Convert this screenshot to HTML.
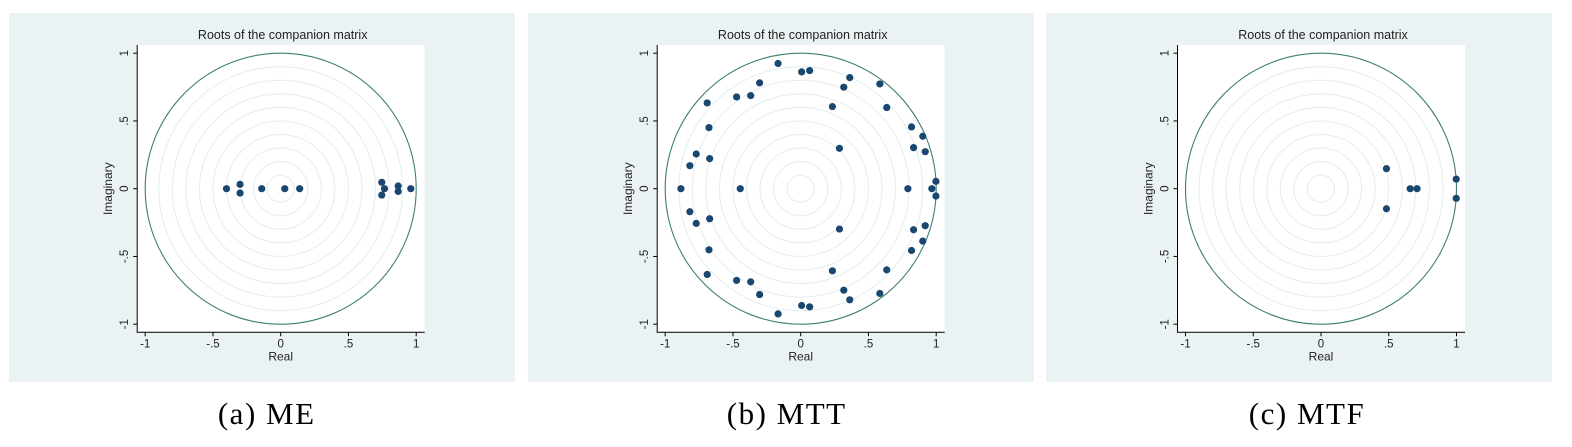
<!DOCTYPE html>
<html><head><meta charset="utf-8"><style>
body{margin:0;background:#fff;width:1572px;height:447px;overflow:hidden;font-family:"Liberation Sans",sans-serif}
svg{position:absolute;left:0;top:0}
</style></head><body>
<svg id="s" width="1572" height="447"></svg>
<script>
const meRe=[-0.40,-0.30,-0.30,-0.14,0.03,0.14,0.746,0.746,0.766,0.867,0.867,0.96];
const meIm=[0,0.032,-0.032,0,0,0,0.047,-0.047,0,0.02,-0.02,0];
const mttReU=[-0.167,0.007,0.066,0.362,0.318,0.584,-0.303,-0.473,-0.369,-0.690,0.234,0.635,-0.677,0.818,0.901,0.286,0.833,0.919,-0.771,-0.672,-0.818,0.998];
const mttImU=[0.924,0.862,0.872,0.820,0.749,0.773,0.781,0.677,0.687,0.633,0.606,0.599,0.451,0.456,0.387,0.298,0.303,0.273,0.256,0.222,0.170,0.054];
const mttReReal=[-0.884,-0.446,0.791,0.968];
const mtfRe=[0.483,0.483,0.658,0.709,0.998,0.998];
const mtfIm=[0.148,-0.148,0,0,0.071,-0.071];
const ticks=[-1,-0.5,0,0.5,1];
const tickLabels=["-1","-.5","0",".5","1"];
const captions=["(a) ME","(b) MTT","(c) MTF"];

const mttRe=[],mttIm=[];
mttReU.forEach((v,i)=>{mttRe.push(v);mttIm.push(mttImU[i]);mttRe.push(v);mttIm.push(-mttImU[i]);});
mttReReal.forEach(v=>{mttRe.push(v);mttIm.push(0);});

const NS="http://www.w3.org/2000/svg";
const svg=document.getElementById('s');
function mk(tag,attrs,parent){const e=document.createElementNS(NS,tag);for(const k in attrs)e.setAttribute(k,attrs[k]);(parent||svg).appendChild(e);return e;}

const panels=[{ox:9,cx:271.7,re:meRe,im:meIm,name:'me'},{ox:528,cx:272.7,re:mttRe,im:mttIm,name:'mtt'},{ox:1046,cx:275,re:mtfRe,im:mtfIm,name:'mtf'}];
const S=135.5, CY=175.7, OY=13;
panels.forEach((p,pi)=>{
  const g=mk('g',{transform:`translate(${p.ox},${OY})`});
  
  
  const bg=mk('rect',{x:0,y:0,width:506,height:369,fill:'#eaf2f3'},g);
  
  
  const L=p.cx-143.5,R=p.cx+144,T=32,B=319.3;
  const pl=mk('rect',{x:L,y:T,width:R-L,height:B-T,fill:'#fff'},g);
  
  
  const sx=v=>p.cx+v*S, sy=v=>CY-v*S;
  for(let r=1;r<=9;r++){
    const c=mk('circle',{cx:p.cx,cy:CY,r:r*0.1*S,fill:'none',stroke:'#e3eeec','stroke-width':1},g);
    
    
  }
  const uc=mk('circle',{cx:p.cx,cy:CY,r:S,fill:'none',stroke:'#3f7f72','stroke-width':1.1},g);
  
  
  const t=mk('text',{x:p.cx+2,y:26,'text-anchor':'middle','font-size':12.5,fill:'#222'},g);
  t.textContent='Roots of the companion matrix';
  
  
  const ax=mk('path',{d:`M${L},${T}V${B}H${R}`,fill:'none',stroke:'#000','stroke-width':1},g);
  
  
  ticks.forEach((v,i)=>{
    mk('line',{x1:sx(v),x2:sx(v),y1:B,y2:B+4,stroke:'#000'},g);
    const tx=mk('text',{x:sx(v),y:B+15,'text-anchor':'middle','font-size':11.5,fill:'#222'},g);
    tx.textContent=tickLabels[i];
    
    
    mk('line',{x1:L,x2:L-4,y1:sy(v),y2:sy(v),stroke:'#000'},g);
    const ty=mk('text',{x:L-9,y:sy(v),'text-anchor':'middle','font-size':11.5,fill:'#222',transform:`rotate(-90 ${L-9} ${sy(v)})`},g);
    ty.textContent=tickLabels[i];
    
    
  });
  const xt=mk('text',{x:p.cx,y:B+28,'text-anchor':'middle','font-size':12,fill:'#222'},g);
  xt.textContent='Real';
  
  
  const yx=L-25;
  const yt=mk('text',{x:yx,y:CY,'text-anchor':'middle','font-size':12,fill:'#222',transform:`rotate(-90 ${yx} ${CY})`},g);
  yt.textContent='Imaginary';
  
  
  p.re.forEach((v,i)=>{
    const d=mk('circle',{cx:sx(v),cy:sy(p.im[i]),r:3.6,fill:'#1a476f'},g);
    
    
  });
  const cap=mk('text',{x:p.ox+p.cx-14,y:424,'text-anchor':'middle','font-size':31,fill:'#000','letter-spacing':'1.5','font-family':'"Liberation Serif",serif'});
  cap.textContent=captions[pi];
  
  
});
</script>
</body></html>
